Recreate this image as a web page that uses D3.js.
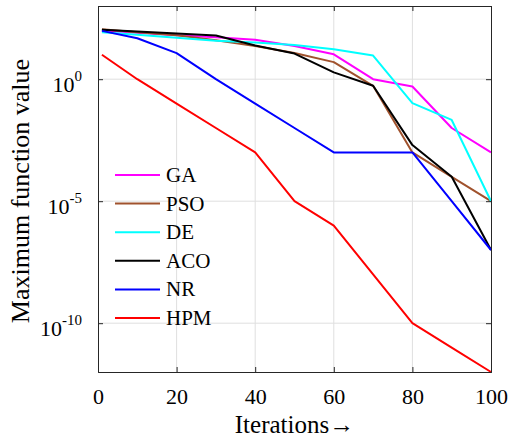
<!DOCTYPE html>
<html>
<head>
<meta charset="utf-8">
<script src="https://cdn.jsdelivr.net/npm/d3@7"></script>
<style>
  body { margin: 0; background: #fff; }
</style>
</head>
<body>
<svg id="chart" width="510" height="442"></svg>
<script>
// iterations sampled by every series
const iters = [1, 10, 20, 30, 40, 50, 60, 70, 80, 90, 100]

// values (log10 of the maximum function value)
const gaLog  = [2.0, 1.9, 1.8, 1.72, 1.62, 1.36, 1.02, 0.0, -0.3, -2.0, -3.0]
const psoLog = [2.05, 1.92, 1.8, 1.6, 1.36, 1.07, 0.7, -0.27, -3.0, -4.0, -5.0]
const deLog  = [1.92, 1.82, 1.7, 1.58, 1.5, 1.4, 1.23, 0.97, -0.98, -1.67, -5.0]
const acoLog = [2.03, 1.95, 1.87, 1.79, 1.38, 1.05, 0.28, -0.27, -2.7, -4.0, -7.0]
const nrLog  = [1.98, 1.68, 1.07, 0.0, -1.0, -2.0, -3.0, -3.0, -3.0, -5.0, -7.0]
const hpmLog = [1.0, 0.0, -1.0, -2.0, -3.0, -5.0, -6.0, -8.0, -10.0, -11.0, -12.0]

const seriesNames = ["GA", "PSO", "DE", "ACO", "NR", "HPM"]
const seriesColors = ["#ff00ff", "#a0522d", "#00ffff", "#000000", "#0000ff", "#ff0000"]
const seriesLogs = [gaLog, psoLog, deLog, acoLog, nrLog, hpmLog]

const xTicks = [0, 20, 40, 60, 80, 100]
const yTickExp = [0, -5, -10]

// pick the first serif face that is really installed
function pickFont(cands) {
    const ctx = document.createElement("canvas").getContext("2d")
    const probe = "Maximum function value 0123456789"
    ctx.font = "40px monospace"
    const base = ctx.measureText(probe).width
    for (const c of cands) {
        ctx.font = `40px "${c}", monospace`
        if (Math.abs(ctx.measureText(probe).width - base) > 0.5) return `"${c}"`
    }
    return "serif"
}
const serif = pickFont(["Liberation Serif", "Times New Roman", "Tinos", "Times", "Nimbus Roman", "DejaVu Serif", "Noto Serif", "FreeSerif"])

const svg = d3.select("#chart")
const m = { left: 98, right: 491, top: 6, bottom: 372 }

const x = d3.scaleLinear().domain([0, 100]).range([m.left, m.right])
const y = d3.scaleLog().domain([1e-12, 1e3]).range([m.bottom, m.top])

const axisColor = "#262626"
const gridColor = "#dfdfdf"

// grid
const grid = svg.append("g")
grid.selectAll(".gx")
    .data(xTicks.slice(1, -1))
    .enter().append("line")
    .attr("x1", d => x(d)).attr("x2", d => x(d))
    .attr("y1", m.top).attr("y2", m.bottom)
    .attr("stroke", gridColor).attr("stroke-width", 1)
grid.selectAll(".gy")
    .data(yTickExp)
    .enter().append("line")
    .attr("x1", m.left).attr("x2", m.right)
    .attr("y1", d => y(Math.pow(10, d))).attr("y2", d => y(Math.pow(10, d)))
    .attr("stroke", gridColor).attr("stroke-width", 1)

// series
const line = d3.line()
    .x((d, i) => x(iters[i]))
    .y(d => y(Math.pow(10, d)))

const lines = svg.append("g")
seriesLogs.forEach((vals, k) => {
    lines.append("path")
        .datum(vals)
        .attr("d", line)
        .attr("fill", "none")
        .attr("stroke", seriesColors[k])
        .attr("stroke-width", 2)
        .attr("stroke-linejoin", "round")
})

// axes (ticks inward, box all round)
const xAxis = d3.axisBottom(x).tickValues(xTicks).tickSize(-5).tickPadding(16)
const xAxisTop = d3.axisTop(x).tickValues(xTicks).tickSize(-5).tickFormat("")
const yAxis = d3.axisLeft(y).tickValues(yTickExp.map(e => Math.pow(10, e))).tickSize(-5).tickFormat("")
const yAxisRight = d3.axisRight(y).tickValues(yTickExp.map(e => Math.pow(10, e))).tickSize(-5).tickFormat("")

function styleAxis(g) {
    g.attr("font-family", null).attr("font-size", null)
    g.select(".domain").attr("stroke", axisColor).attr("stroke-width", 1)
    g.selectAll(".tick line").attr("stroke", axisColor)
    g.selectAll("text").attr("fill", "#000")
        .style("font-family", serif).style("font-size", "22px")
}

svg.append("g").attr("transform", `translate(0,${m.bottom})`).call(xAxis).call(styleAxis)
svg.append("g").attr("transform", `translate(0,${m.top})`).call(xAxisTop).call(styleAxis)
svg.append("g").attr("transform", `translate(${m.left},0)`).call(yAxis).call(styleAxis)
svg.append("g").attr("transform", `translate(${m.right},0)`).call(yAxisRight).call(styleAxis)

// y tick labels as 10^n
const yLabels = svg.append("g")
    .style("font-family", serif)
    .style("font-size", "22px")
    .attr("text-anchor", "end")
yTickExp.forEach(e => {
    const t = yLabels.append("text")
        .attr("x", m.left - 16)
        .attr("y", y(Math.pow(10, e)) + 13)
    t.append("tspan").text("10")
    t.append("tspan")
        .attr("dy", -11)
        .style("font-size", "15px")
        .text(e)
})

// axis titles
svg.append("text")
    .attr("x", (m.left + m.right) / 2)
    .attr("y", 433)
    .attr("text-anchor", "middle")
    .style("font-family", serif)
    .style("font-size", "25px")
    .text("Iterations\u2192")

svg.append("text")
    .attr("transform", `translate(29,${(m.top + m.bottom) / 2 + 2}) rotate(-90)`)
    .attr("text-anchor", "middle")
    .style("font-family", serif)
    .style("font-size", "26px")
    .text("Maximum function value")

// legend
const legend = svg.append("g")
    .style("font-family", serif)
    .style("font-size", "21px")
seriesNames.forEach((name, k) => {
    const ly = 175 + k * 28.6
    legend.append("line")
        .attr("x1", 115).attr("x2", 160)
        .attr("y1", ly).attr("y2", ly)
        .attr("stroke", seriesColors[k])
        .attr("stroke-width", 2)
    legend.append("text")
        .attr("x", 166)
        .attr("y", ly + 7)
        .text(name)
})
</script>
</body>
</html>
